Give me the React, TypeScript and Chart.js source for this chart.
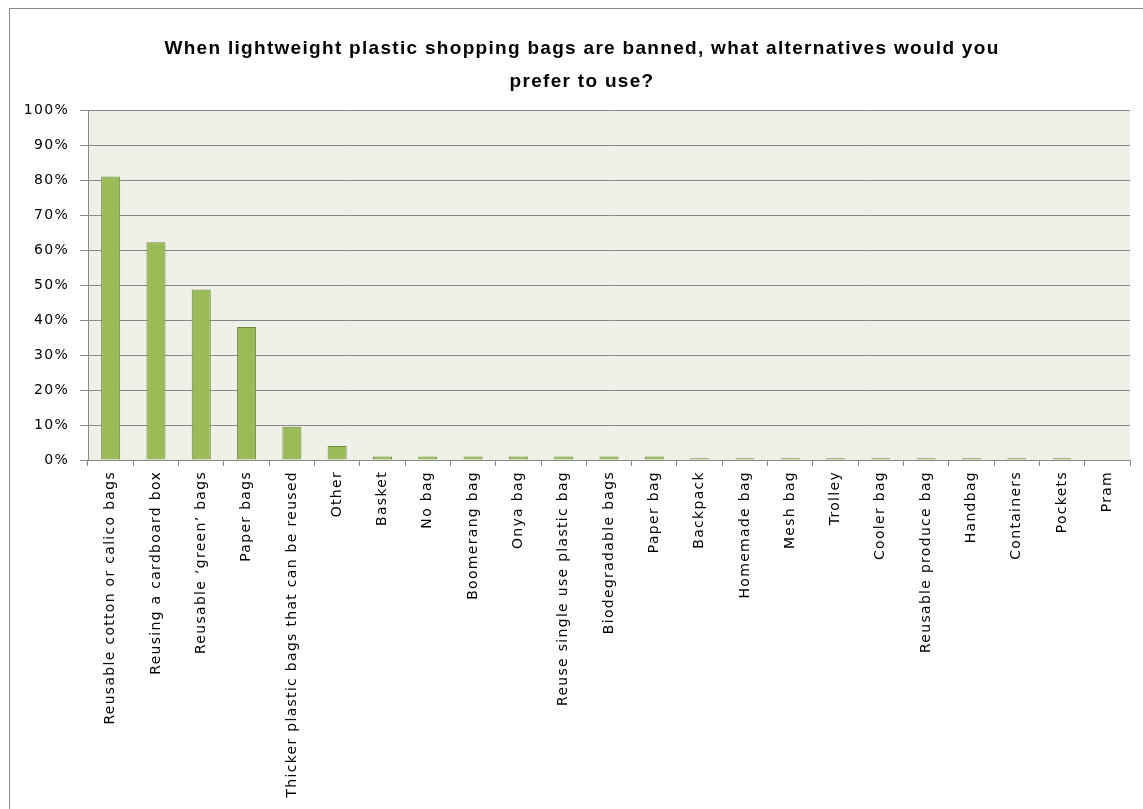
import React, { useEffect, useRef } from "react";
import { Chart, registerables } from "chart.js";

Chart.register(...registerables);

const titleLines = [
  "When lightweight plastic shopping bags are banned, what alternatives would you",
  "prefer to use?",
];

const categories = [
  "Reusable cotton or calico bags",
  "Reusing a cardboard box",
  "Reusable ‘green’ bags",
  "Paper bags",
  "Thicker plastic bags that can be reused",
  "Other",
  "Basket",
  "No bag",
  "Boomerang bag",
  "Onya bag",
  "Reuse single use plastic bag",
  "Biodegradable bags",
  "Paper bag",
  "Backpack",
  "Homemade bag",
  "Mesh bag",
  "Trolley",
  "Cooler bag",
  "Reusable produce bag",
  "Handbag",
  "Containers",
  "Pockets",
  "Pram",
];

const percentValues = [
  81.0, 62.2, 48.7, 38.0, 9.5, 4.0, 1.0, 1.0, 1.0, 1.0, 1.0, 1.0, 1.0, 0.5,
  0.5, 0.5, 0.5, 0.5, 0.5, 0.5, 0.5, 0.5, 0.0,
];

const yTickValues = [0, 10, 20, 30, 40, 50, 60, 70, 80, 90, 100];

const CANVAS_W = 1157;
const CANVAS_H = 800;

const textSpacing = {
  id: "textSpacing",
  beforeUpdate(chart: any) {
    chart.ctx.letterSpacing = "1.3px";
  },
  beforeLayout(chart: any) {
    chart.ctx.letterSpacing = "1.3px";
  },
  beforeDraw(chart: any) {
    chart.ctx.letterSpacing = "1.3px";
  },
};

const plotBackground = {
  id: "plotBackground",
  beforeDraw(chart: any) {
    const { ctx, chartArea } = chart;
    ctx.save();
    ctx.fillStyle = "#EEF1E7";
    ctx.fillRect(
      chartArea.left,
      chartArea.top,
      chartArea.right - chartArea.left,
      chartArea.bottom - chartArea.top
    );
    ctx.restore();
  },
};

export default function App() {
  const canvasRef = useRef<HTMLCanvasElement | null>(null);

  useEffect(() => {
    if (!canvasRef.current) return;
    const chart = new Chart(canvasRef.current, {
      type: "bar",
      data: {
        labels: categories,
        datasets: [
          {
            data: percentValues,
            backgroundColor: "#9BBB59",
            borderColor: "#6F8A3C",
            borderWidth: 1,
            categoryPercentage: 0.84,
            barPercentage: 0.5,
            yAxisID: "y",
          },
        ],
      },
      options: {
        animation: false,
        responsive: false,
        maintainAspectRatio: false,
        layout: { padding: { left: 0, right: 13, top: 0, bottom: 0 } },
        plugins: {
          legend: { display: false },
          tooltip: { enabled: false },
          title: {
            display: true,
            text: titleLines,
            color: "#000000",
            font: {
              family: "'Liberation Sans', Arial, sans-serif",
              size: 19,
              weight: "bold",
              lineHeight: 1.74,
            },
            padding: { top: 23, bottom: 12 },
          },
        },
        scales: {
          x: {
            grid: {
              display: true,
              drawOnChartArea: false,
              drawTicks: true,
              tickLength: 6,
              color: "#888888",
              offset: true,
            },
            border: { display: true, color: "#888888", width: 1 },
            ticks: {
              autoSkip: false,
              minRotation: 90,
              maxRotation: 90,
              color: "#000000",
              padding: 5,
              font: { family: "'DejaVu Sans', sans-serif", size: 14 },
            },
            afterFit(scale: any) {
              scale.height = 349;
            },
          },
          y: {
            min: 0,
            max: 100,
            afterBuildTicks(scale: any) {
              scale.ticks = yTickValues.map((v) => ({ value: v }));
            },
            grid: {
              color: "#888888",
              lineWidth: 1,
              tickLength: 8,
              drawTicks: true,
            },
            border: { display: true, color: "#888888", width: 1 },
            ticks: {
              color: "#000000",
              padding: 11,
              font: { family: "'DejaVu Sans', sans-serif", size: 14 },
              callback: (v: any) => v + "%",
            },
            afterFit(scale: any) {
              scale.width = 78;
            },
          },
          ySpacer: {
            position: "right",
            display: true,
            grid: { display: false, drawTicks: false },
            border: { display: false },
            ticks: { display: false },
            afterFit(scale: any) {
              scale.width = 24;
            },
          },
        },
      },
      plugins: [textSpacing, plotBackground],
    });
    return () => chart.destroy();
  }, []);

  return (
    <div
      style={{
        position: "absolute",
        left: 9,
        top: 8,
        width: 1134,
        height: 801,
        border: "1px solid #888888",
        borderRight: "none",
        borderBottom: "none",
        background: "#ffffff",
        overflow: "hidden",
      }}
    >
      <canvas
        ref={canvasRef}
        width={CANVAS_W}
        height={CANVAS_H}
        style={{ display: "block", width: CANVAS_W, height: CANVAS_H }}
      />
    </div>
  );
}
